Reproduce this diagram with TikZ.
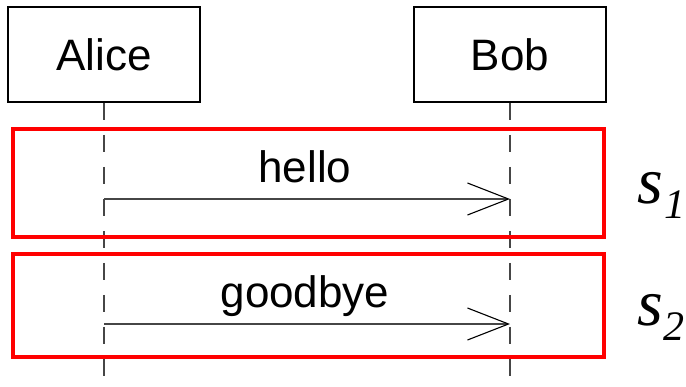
\documentclass[tikz,border=0pt]{standalone}
\usepackage{fontspec}
\setmainfont{Liberation Sans}
\newfontfamily\seqserif{Liberation Serif}
\usepackage{tikz}
\usetikzlibrary{positioning, arrows.meta}
\definecolor{SeqRed}{RGB}{255,0,0}
\definecolor{SeqLine}{RGB}{70,70,70}

\begin{document}
\begin{tikzpicture}[x=1pt, y=-1pt,
          actor/.style={rectangle, draw=black, line width=1.5pt, fill=white,
                        minimum width=192pt, minimum height=95pt,
                        font=\fontsize{44}{48}\selectfont},
          life/.style={draw=SeqLine, line width=1.4pt, dash pattern=on 17pt off 15pt},
          msg/.style={-{Straight Barb[length=41pt, width=32pt, line width=1.1pt, color=black]},
                      draw=SeqLine, line width=1.4pt},
          lbl/.style={font=\fontsize{44}{48}\selectfont, inner sep=0pt, anchor=base},
          frame/.style={draw=SeqRed, line width=3.5pt},
          seg/.style={font=\seqserif\itshape\fontsize{66}{66}\selectfont, inner sep=0pt, anchor=base west}
        ]
        \useasboundingbox (0,0) rectangle (686,386);

        % Participants
        \node[actor] (alice) at (104, 54.5) {Alice};
        \node[actor] (bob)   at (510, 54.5) {Bob};

        % Lifelines
        \coordinate (aend) at (104, 390);
        \coordinate (bend) at (510, 390);
        \draw[life] (alice.south) -- (aend);
        \draw[life] (bob.south) -- (bend);

        % Messages
        \coordinate (a1) at (104, 199);
        \coordinate (b1) at (510, 199);
        \coordinate (a2) at (104, 324);
        \coordinate (b2) at (510, 324);
        \draw[msg] (a1) -- (b1);
        \draw[msg] (a2) -- (b2);
        \node[lbl] (hello) at (305, 182) {hello};
        \node[lbl] (bye)   at (305, 307) {goodbye};

        % Step frames
        \draw[frame] (13, 129) rectangle (604, 237);
        \draw[frame] (13, 254) rectangle (604, 357);
        \node[seg] (s1) at (637, 203)
              {s\hspace{2pt}\raisebox{-15pt}{\fontsize{42}{42}\selectfont 1}};
        \node[seg] (s2) at (637, 325)
              {s\hspace{1pt}\raisebox{-15pt}{\fontsize{42}{42}\selectfont 2}};
      \end{tikzpicture}
\end{document}
